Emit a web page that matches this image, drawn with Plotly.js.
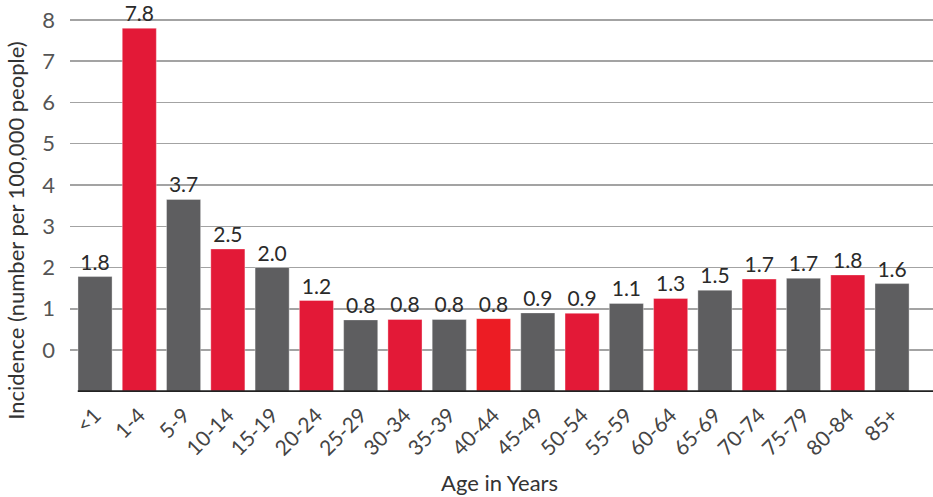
<!DOCTYPE html>
<html>
<head>
<meta charset="utf-8">
<script src="https://cdn.plot.ly/plotly-3.0.1.min.js"></script>
<style>html,body{margin:0;padding:0;background:#fff;}#chart{width:933px;height:497px;}</style>
</head>
<body>
<div id="chart"></div>
<script>
const ageGroups = ["<1","1-4","5-9","10-14","15-19","20-24","25-29","30-34","35-39","40-44","45-49","50-54","55-59","60-64","65-69","70-74","75-79","80-84","85+"];
const incidence = [1.78, 7.80, 3.65, 2.45, 2.00, 1.20, 0.73, 0.74, 0.74, 0.76, 0.90, 0.89, 1.13, 1.25, 1.45, 1.72, 1.74, 1.82, 1.61];
const valueLabels = ["1.8","7.8","3.7","2.5","2.0","1.2","0.8","0.8","0.8","0.8","0.9","0.9","1.1","1.3","1.5","1.7","1.7","1.8","1.6"];
const barColors = ["#5e5e60","#e31937","#5e5e60","#e31937","#5e5e60","#e31937","#5e5e60","#e31937","#5e5e60","#ec1c24","#5e5e60","#e31937","#5e5e60","#e31937","#5e5e60","#e31937","#5e5e60","#e31937","#5e5e60"];
const yTicks = [0,1,2,3,4,5,6,7,8];
const baseValue = -1;

const xRange = [-0.565, 18.925];
const FONT = "Lato, 'Open Sans', sans-serif";

const trace = {
  type: "bar",
  x: ageGroups,
  y: incidence.map(v => v - baseValue),
  base: baseValue,
  width: 0.77,
  marker: {color: barColors, line: {color: "rgba(255,255,255,0.35)", width: 1}},
  text: valueLabels,
  textposition: "outside",
  textfont: {family: FONT, size: 21, color: "#2a2a2a"},
  constraintext: "none",
  cliponaxis: false,
  hoverinfo: "none"
};

const layout = {
  width: 933, height: 497,
  margin: {l: 70, r: 0, t: 10, b: 105},
  paper_bgcolor: "#fff", plot_bgcolor: "#fff",
  showlegend: false,
  font: {family: FONT, color: "#444"},
  xaxis: {
    type: "category",
    range: xRange,
    tickangle: -45,
    ticks: "",
    showgrid: false,
    zeroline: false,
    showline: false,
    tickfont: {family: FONT, size: 21, color: "#444"},
    ticklabelstandoff: 6
  },
  yaxis: {
    range: [-1.018, 8.242],
    tickvals: yTicks,
    ticktext: yTicks.map(String),
    ticks: "",
    showgrid: true,
    gridcolor: "#a3a3a3",
    gridwidth: 1.5,
    zeroline: false,
    showline: false,
    tickfont: {family: FONT, size: 22, color: "#555"},
    ticklabelstandoff: 14
  },
  shapes: [{
    type: "line", xref: "x", yref: "y",
    x0: -0.39, x1: xRange[1], y0: baseValue, y1: baseValue,
    line: {color: "#222", width: 2}
  }],
  annotations: [
    {text: "Incidence (number per 100,000 people)", xref: "paper", yref: "paper",
     x: -0.064, y: 0.424, xanchor: "center", yanchor: "middle", textangle: -90,
     showarrow: false, font: {family: FONT, size: 22, color: "#333"}},
    {text: "Age in Years", xref: "paper", yref: "paper",
     x: 0.498, y: -0.236, xanchor: "center", yanchor: "middle",
     showarrow: false, font: {family: FONT, size: 22, color: "#333"}}
  ]
};

Plotly.newPlot("chart", [trace], layout, {displayModeBar: false, staticPlot: true});
</script>
</body>
</html>
